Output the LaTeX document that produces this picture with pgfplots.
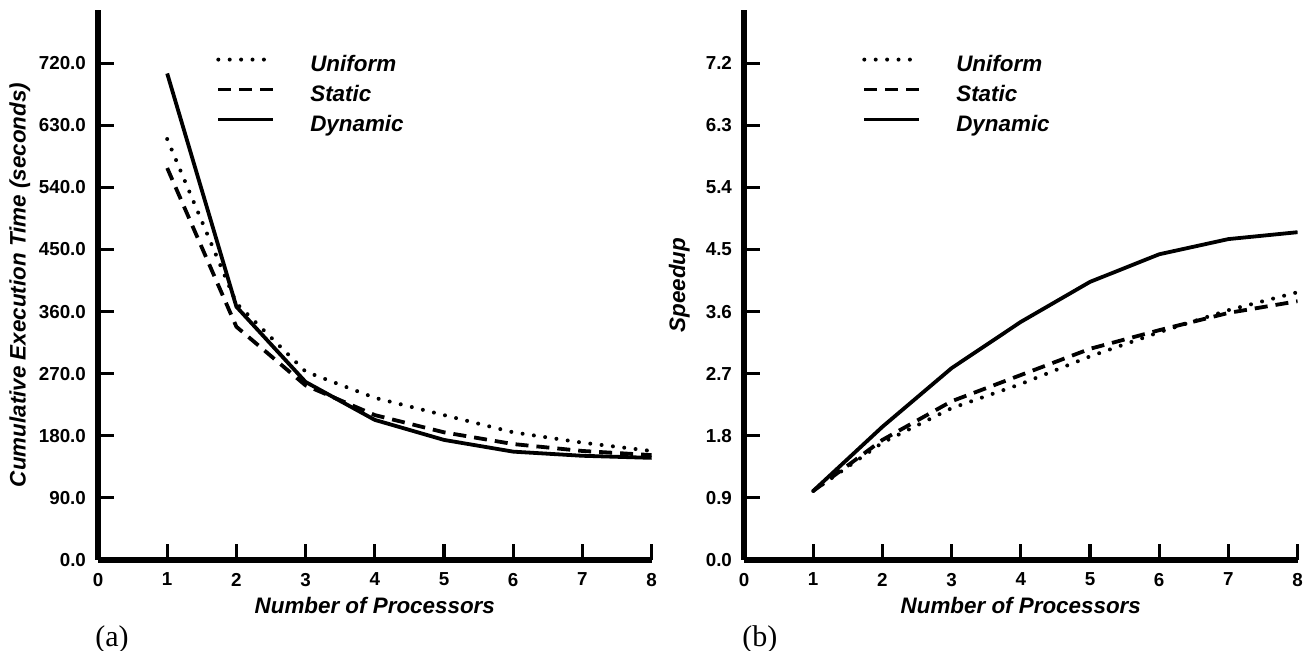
\documentclass[border=0pt]{standalone}
\usepackage{fontspec}
\setmainfont{Liberation Sans}
\newfontfamily\timesfont{Liberation Serif}
\usepackage{pgfplots}
\pgfplotsset{compat=1.18}

\tikzset{
  udot/.style={black, line width=2pt, line cap=round, dash pattern=on 0pt off 5.7pt},
  sdash/.style={black, line width=1.9pt, dash pattern=on 6.5pt off 4pt},
  dsolid/.style={black, line width=1.9pt},
}

\pgfplotsset{
  mystyle/.style={
    scale only axis, width=276.8pt, height=275pt,
    anchor=south west,
    axis x line=bottom, axis y line=left,
    axis line style={line width=3pt, -},
    every outer x axis line/.append style={line width=3pt, -},
    every outer y axis line/.append style={line width=3pt, -},
    xmin=0, xmax=8, ymin=0,
    xtick={0,1,2,3,4,5,6,7,8},
    xtick pos=bottom, ytick pos=left,
    xtick align=inside, ytick align=inside,
    major tick length=8pt,
    every major tick/.append style={line width=1.6pt, black, solid},
    minor tick num=0,
    /pgf/number format/assume math mode=true,
    tick label style={font=\bfseries\fontsize{9.4}{11}\selectfont},
    xticklabel style={yshift=-3pt},
    yticklabel style={xshift=-2.5pt, /pgf/number format/.cd, fixed, fixed zerofill, precision=1, /tikz/.cd},
    label style={font=\bfseries\itshape\fontsize{11.2}{13}\selectfont},
    xlabel={Number of Processors},
    xlabel style={at={(axis description cs:0.5,-0.082)}, anchor=center},
    legend cell align=left,
    legend image code/.code={\draw[##1] (0pt,3.5pt) -- (27.5pt,3.5pt);},
    legend style={at={(rel axis cs:0.213,0.916)}, anchor=north west, draw=none, fill=none,
      inner sep=0pt, row sep=5pt,
      font=\bfseries\itshape\fontsize{11.2}{13}\selectfont,
      nodes={inner sep=0pt, text height=7.5pt, text depth=2.5pt},
      /tikz/every odd column/.append style={column sep=17.5pt}},
  }
}

\begin{document}
\begin{tikzpicture}
\begin{axis}[mystyle, at={(0pt,0pt)},
  ymax=797,
  ytick={0,90,180,270,360,450,540,630,720},
  ylabel={Cumulative Execution Time (seconds)},
  ylabel style={at={(axis description cs:-0.141,0.5)}, anchor=center},
]
\addplot[udot] coordinates {(1,610) (2,372) (3,273) (4,235) (5,210) (6,185) (7,170) (8,158)};
\addlegendentry{Uniform}
\addplot[sdash] coordinates {(1,568) (2,338) (3,253) (4,210) (5,185) (6,168) (7,158) (8,152)};
\addlegendentry{Static}
\addplot[dsolid] coordinates {(1,705) (2,367) (3,258) (4,203) (5,174) (6,157) (7,151) (8,148)};
\addlegendentry{Dynamic}
\end{axis}

\begin{axis}[mystyle, at={(323pt,0pt)},
  ymax=7.97,
  ytick={0,0.9,1.8,2.7,3.6,4.5,5.4,6.3,7.2},
  ylabel={Speedup},
  ylabel style={at={(axis description cs:-0.117,0.5)}, anchor=center},
]
\addplot[udot] coordinates {(1,1.0) (2,1.70) (3,2.20) (4,2.55) (5,2.95) (6,3.30) (7,3.62) (8,3.88)};
\addlegendentry{Uniform}
\addplot[sdash] coordinates {(1,1.0) (2,1.74) (3,2.30) (4,2.68) (5,3.06) (6,3.33) (7,3.58) (8,3.75)};
\addlegendentry{Static}
\addplot[dsolid] coordinates {(1,1.0) (2,1.93) (3,2.78) (4,3.45) (5,4.03) (6,4.43) (7,4.65) (8,4.75)};
\addlegendentry{Dynamic}
\end{axis}

\node[anchor=west, inner sep=0pt, font=\timesfont\fontsize{15}{17}\selectfont] at (-1.5pt,-39.5pt) {(a)};
\node[anchor=west, inner sep=0pt, font=\timesfont\fontsize{15}{17}\selectfont] at (322pt,-39.5pt) {(b)};

\pgfresetboundingbox
\path[use as bounding box] (-49pt,-45.5pt) rectangle (607pt,280pt);
\end{tikzpicture}
\end{document}
